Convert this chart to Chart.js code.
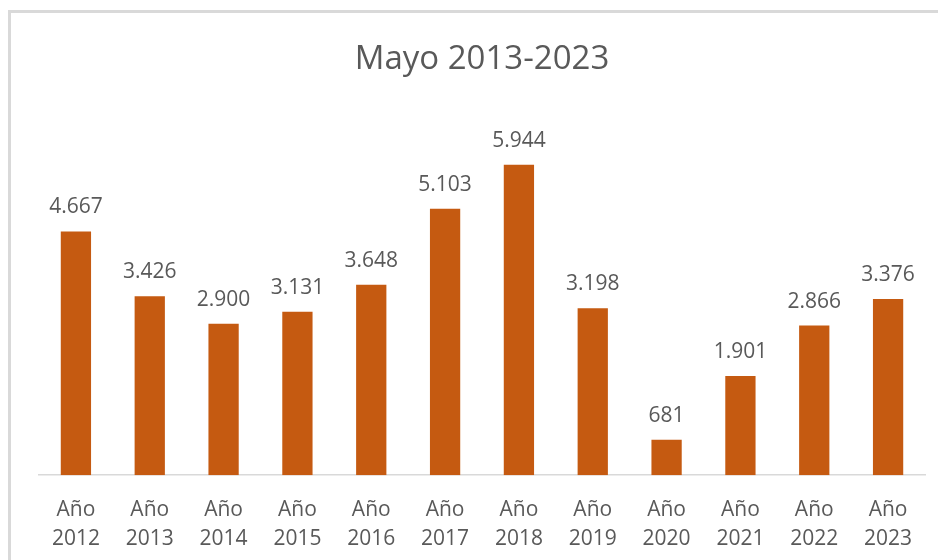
<!DOCTYPE html>
<html lang="es">
<head>
<meta charset="utf-8">
<title>Mayo 2013-2023</title>
<script src="https://cdn.jsdelivr.net/npm/chart.js@4.4.1/dist/chart.umd.min.js"></script>
<style>
  html, body { margin: 0; padding: 0; background: #fff; }
  #wrap { position: relative; width: 938px; height: 560px; overflow: hidden; }
  #marco {
    position: absolute; left: 8px; top: 10px; width: 960px; height: 600px;
    border-left: 3px solid #d9d9d9; border-top: 3px solid #d9d9d9;
  }
  #grafico { position: absolute; left: 0; top: 0; }
</style>
</head>
<body>
<div id="wrap">
  <div id="marco"></div>
  <canvas id="grafico" width="938" height="560"></canvas>
</div>
<script>
// datos
const anios = ["2012","2013","2014","2015","2016","2017","2018","2019","2020","2021","2022","2023"];
const valores = [4667, 3426, 2900, 3131, 3648, 5103, 5944, 3198, 681, 1901, 2866, 3376];
const titulo = "Mayo 2013-2023";

const COLOR_BARRA = "#C55A11";
const COLOR_TEXTO = "#595959";
const FUENTE = "'Open Sans', 'Liberation Sans', sans-serif";

// 4667 -> "4.667"
function formatoMiles(n) {
  return String(n).replace(/\B(?=(\d{3})+(?!\d))/g, ".");
}

// etiquetas de datos sobre cada barra
const etiquetasDatos = {
  id: "etiquetasDatos",
  afterDatasetsDraw(chart) {
    const ctx = chart.ctx;
    const meta = chart.getDatasetMeta(0);
    ctx.save();
    ctx.font = "21px " + FUENTE;
    ctx.fillStyle = COLOR_TEXTO;
    ctx.textAlign = "center";
    ctx.textBaseline = "alphabetic";
    meta.data.forEach((bar, i) => {
      ctx.fillText(formatoMiles(valores[i]), bar.x, bar.y - 18);
    });
    ctx.restore();
  }
};

new Chart(document.getElementById("grafico"), {
  type: "bar",
  data: {
    labels: anios.map(a => ["Año", a]),
    datasets: [{
      data: valores,
      backgroundColor: COLOR_BARRA,
      borderWidth: 0,
      barPercentage: 0.41,
      categoryPercentage: 1
    }]
  },
  options: {
    responsive: false,
    animation: false,
    layout: { padding: { left: 39, right: 13, top: 0, bottom: -14 } },
    plugins: {
      legend: { display: false },
      tooltip: { enabled: false },
      title: {
        display: true,
        text: titulo,
        color: COLOR_TEXTO,
        font: { family: FUENTE, size: 33, weight: "normal", lineHeight: 1.2 },
        padding: { top: 40, bottom: 30 }
      }
    },
    scales: {
      x: {
        grid: { display: false, drawTicks: false },
        border: { display: true, color: "#d9d9d9", width: 1.5 },
        ticks: {
          color: COLOR_TEXTO,
          padding: 20,
          maxRotation: 0,
          autoSkip: false,
          font: { family: FUENTE, size: 21, lineHeight: 1.4 }
        }
      },
      y: {
        display: false,
        min: 0,
        max: 7000
      }
    }
  },
  plugins: [etiquetasDatos]
});
</script>
</body>
</html>
